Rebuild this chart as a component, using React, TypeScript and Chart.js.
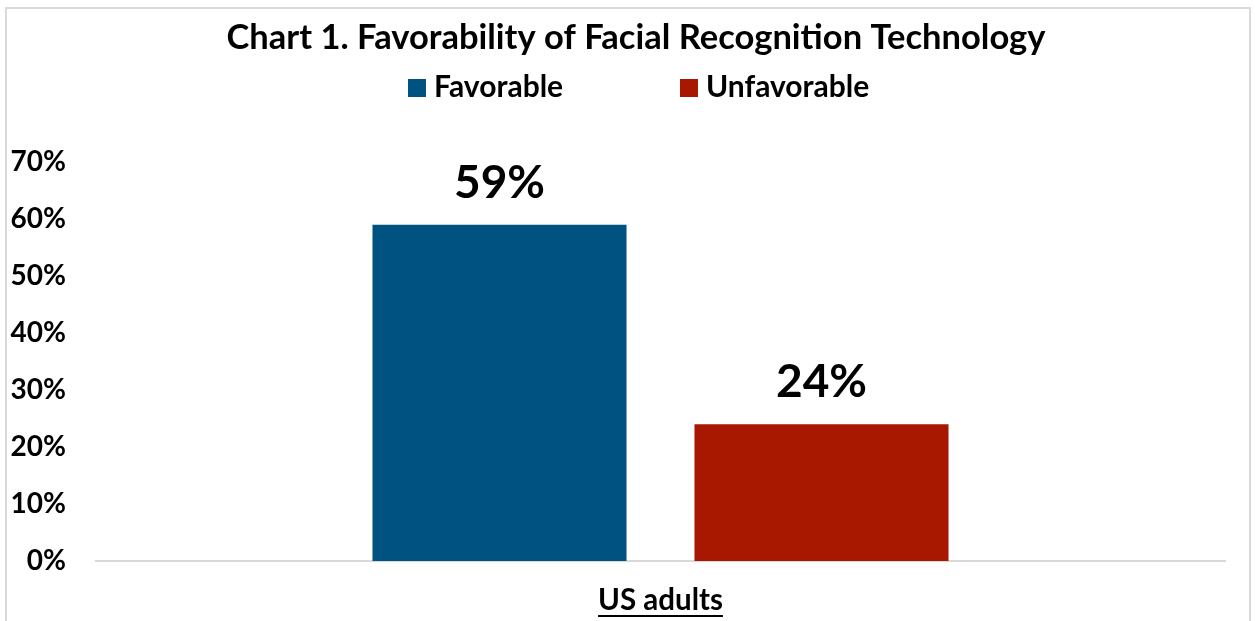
import React, { useEffect, useRef } from "react";
import { Chart, registerables } from "chart.js";

Chart.register(...registerables);

const TITLE = "Chart 1. Favorability of Facial Recognition Technology";
const CATEGORIES = ["US adults"];
const SERIES_NAMES = ["Favorable", "Unfavorable"];
const FAVORABLE = [59];
const UNFAVORABLE = [24];
const SERIES_COLORS = ["#005280", "#A81700"];
const Y_TICKS = [0, 10, 20, 30, 40, 50, 60, 70];

const FONT = "Lato, 'Open Sans', sans-serif";

const overlayPlugin = {
  id: "overlay",
  afterDraw(chart: any) {
    const ctx = chart.ctx;
    const area = chart.chartArea;
    ctx.save();
    ctx.fillStyle = "#000";
    // Title
    ctx.font = `bold 34.5px ${FONT}`;
    ctx.textAlign = "center";
    ctx.textBaseline = "alphabetic";
    ctx.fillText(TITLE, 636, 49);

    // Legend
    ctx.font = `bold 30px ${FONT}`;
    ctx.textAlign = "left";
    const legendX = [408, 680];
    chart.data.datasets.forEach((ds: any, i: number) => {
      ctx.fillStyle = ds.backgroundColor;
      ctx.fillRect(legendX[i], 79, 18, 18);
      ctx.fillStyle = "#000";
      ctx.fillText(ds.label, legendX[i] + 26, 97);
    });

    // Data labels
    ctx.font = `bold 46px ${FONT}`;
    ctx.textAlign = "center";
    chart.data.datasets.forEach((ds: any, i: number) => {
      const meta = chart.getDatasetMeta(i);
      meta.data.forEach((bar: any, j: number) => {
        ctx.fillStyle = "#000";
        ctx.fillText(`${ds.data[j]}%`, bar.x, bar.y - 27);
      });
    });

    // Category label, underlined
    const xScale = chart.scales.x;
    ctx.font = `bold 29.5px ${FONT}`;
    CATEGORIES.forEach((c, i) => {
      const cx = xScale.getPixelForValue(i);
      const y = area.bottom + 49;
      ctx.fillText(c, cx, y);
      const w = ctx.measureText(c).width;
      ctx.fillRect(cx - w / 2, y + 5, w, 2);
    });
    ctx.restore();
  },
};

export default function App() {
  const ref = useRef<HTMLCanvasElement | null>(null);

  useEffect(() => {
    document.body.style.margin = "0";
    document.body.style.overflow = "hidden";
    if (!ref.current) return;
    const chart = new Chart(ref.current, {
      type: "bar",
      data: {
        labels: CATEGORIES,
        datasets: [
          {
            label: SERIES_NAMES[0],
            data: FAVORABLE,
            backgroundColor: SERIES_COLORS[0],
            categoryPercentage: 0.5704,
            barPercentage: 0.789,
          },
          {
            label: SERIES_NAMES[1],
            data: UNFAVORABLE,
            backgroundColor: SERIES_COLORS[1],
            categoryPercentage: 0.5704,
            barPercentage: 0.789,
          },
        ],
      },
      options: {
        animation: false,
        responsive: false,
        maintainAspectRatio: false,
        devicePixelRatio: 1,
        layout: { padding: { left: 10, right: 30, top: 162, bottom: 0 } },
        plugins: {
          legend: { display: false },
          title: { display: false },
          tooltip: { enabled: false },
        },
        scales: {
          x: {
            grid: { display: false, drawTicks: false },
            border: { display: true, color: "#D9D9D9", width: 2 },
            ticks: { display: false },
            afterFit: (s: any) => {
              s.height = 60;
            },
          },
          y: {
            min: 0,
            max: 70,
            grid: { display: false, drawTicks: false },
            border: { display: false },
            afterBuildTicks: (s: any) => {
              s.ticks = Y_TICKS.map((v) => ({ value: v }));
            },
            ticks: {
              padding: 30,
              color: "#000",
              font: { family: FONT, size: 28, weight: "bold" },
              callback: (v: any) => `${v}%`,
            },
            afterFit: (s: any) => {
              s.width = 86;
            },
          },
        },
      },
      plugins: [overlayPlugin],
    });
    return () => chart.destroy();
  }, []);

  return (
    <div
      style={{
        position: "fixed",
        left: 0,
        top: 0,
        width: 1255,
        height: 621,
        overflow: "hidden",
        background: "#fff",
      }}
    >
      <div
        style={{
          position: "absolute",
          left: 5,
          top: 7,
          width: 1246,
          height: 700,
          border: "2px solid #D9D9D9",
          boxSizing: "border-box",
        }}
      />
      <canvas
        ref={ref}
        width={1255}
        height={621}
        style={{ position: "absolute", left: 0, top: 0, width: 1255, height: 621 }}
      />
    </div>
  );
}
